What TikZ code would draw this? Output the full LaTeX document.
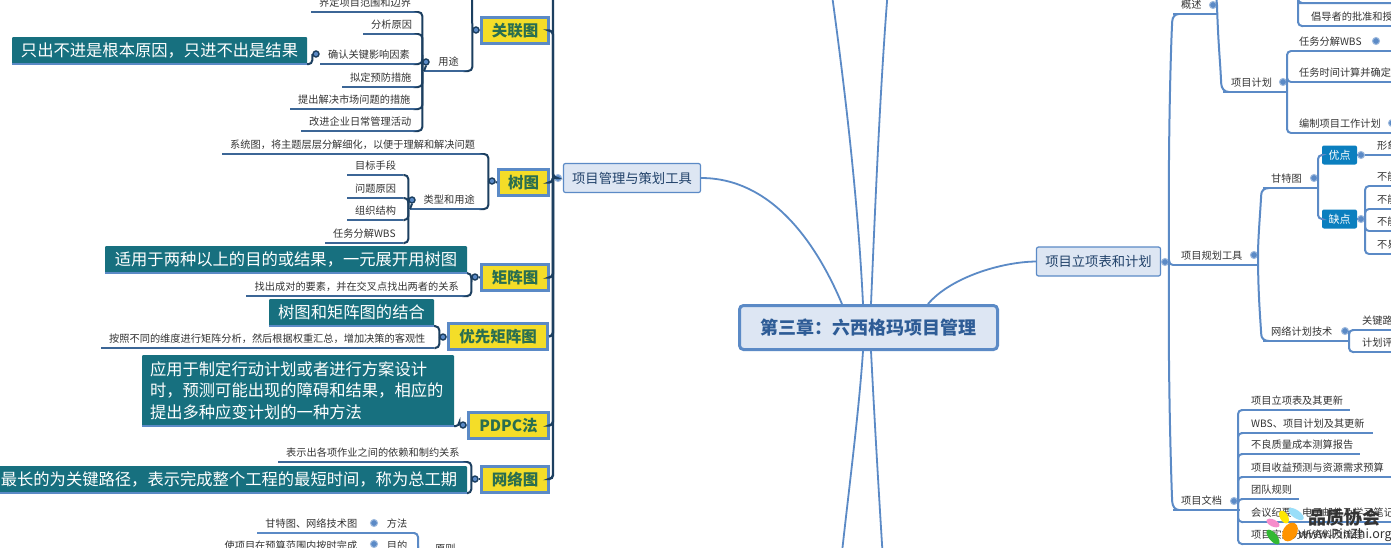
\documentclass[tikz,border=0pt]{standalone}
\usepackage{fontspec}
\setmainfont{Noto Sans CJK SC}
\usepackage{tikz}
\definecolor{navy}{HTML}{1C3F60}
\definecolor{dkline}{HTML}{3C6696}
\definecolor{ltline}{HTML}{5B8AC6}
\definecolor{paleblue}{HTML}{DDE6F3}
\definecolor{tealbg}{HTML}{17707F}
\definecolor{toolyel}{HTML}{F4DD28}
\definecolor{toolgrn}{HTML}{2A6E50}
\definecolor{titleblu}{HTML}{2E5C96}
\definecolor{stepblu}{HTML}{0B7FBF}
\definecolor{inktxt}{HTML}{333333}
\tikzset{
    leaf/.style={anchor=south west, inner xsep=8pt, inner ysep=0pt, minimum height=18pt,
        text height=8.5pt, text depth=1.5pt, text=inktxt, font=\fontsize{10.2}{12}\selectfont},
    lleaf/.style={leaf, align=right},
    rleaf/.style={leaf, align=left},
    uline/.style={dkline, line width=1.6pt},
    bline/.style={ltline, line width=2pt},
    brk/.style={navy, line width=2pt, rounded corners=4pt},
    blk/.style={ltline, line width=2pt, rounded corners=4pt},
    mlink/.style={ltline, line width=1.8pt},
    ldot/.style={circle, draw=navy, fill=ltline, line width=1.4pt, minimum size=6pt, inner sep=0pt},
    rdot/.style={circle, draw=ltline!60, fill=ltline, line width=1pt, minimum size=7pt, inner sep=0pt},
    toolbox/.style={draw=ltline, fill=toolyel, line width=3pt, text=toolgrn,
        font=\fontsize{15.5}{18}\selectfont\bfseries, inner sep=0pt},
    tealbox/.style={fill=tealbg, text=white, inner sep=0pt, rounded corners=1pt,
        font=\fontsize{16.3}{21.5}\selectfont},
    stepbox/.style={fill=stepblu, text=white, rounded corners=2pt, minimum width=35pt, minimum height=19pt,
        inner sep=0pt, font=\fontsize{11}{13}\selectfont},
    branch/.style={draw=ltline, fill=paleblue, line width=1.2pt, rounded corners=2pt, minimum width=137pt,
        minimum height=29pt, inner sep=0pt, text=titleblu!70!black, font=\fontsize{13.3}{16}\selectfont},
    rootbox/.style={draw=ltline, fill=paleblue, line width=3pt, rounded corners=4pt, minimum width=258pt,
        minimum height=44pt, inner sep=0pt, text=titleblu, font=\fontsize{18}{22}\selectfont\bfseries},
}
\begin{document}
\begin{tikzpicture}[x=1pt, y=-1pt]
    \useasboundingbox (0, 0) rectangle (1391, 547);
    \clip (0, 0) rectangle (1391, 547);
    \fill[white] (0, 0) rectangle (1391, 547);

    % centre and main branches
    \node[rootbox] (root) at (868.5, 327.5){第三章：六西格玛项目管理};
    \node[branch] (plan) at (632, 178){项目管理与策划工具};
    \node[branch, minimum width=124pt] (rmain) at (1098.5, 261.5){项目立项表和计划};
    \coordinate (tua) at (832, -5);
    \coordinate (tub) at (887.5, -5);
    \coordinate (dna) at (842, 552);
    \coordinate (dnb) at (882.5, 552);
    \draw[mlink] ([xshift=-26.5pt]root.north) .. controls (815, 240) and (770, 178) .. (plan.east);
    \draw[mlink] ([xshift=-5.5pt]root.north) .. controls (858, 200) and (845, 90) .. (tua);
    \draw[mlink] ([xshift=2.5pt]root.north) .. controls (875, 210) and (880, 90) .. (tub);
    \draw[mlink] ([xshift=-5.5pt]root.south) .. controls (859, 410) and (850, 480) .. (dna);
    \draw[mlink] ([xshift=2.5pt]root.south) .. controls (874, 410) and (878, 480) .. (dnb);
    \draw[mlink] ([xshift=59.5pt]root.north) .. controls (950, 278) and (1000, 262) .. (rmain.west);

    % tool boxes on the left
    \foreach \n/\cx/\cy/\w/\txt in {gl/515/30.5/67/关联图, sh/523.5/182.5/50/树图, jz/515/277.5/67/矩阵图,
        yx/498/336.5/99/优先矩阵图, pd/508.5/425.5/80/PDPC法, wl/515/479/67/网络图}
        \node[toolbox, minimum width=\w pt, minimum height=26pt] (\n) at (\cx, \cy){\txt};

    % notes
    \node[tealbox, minimum width=295pt, minimum height=27pt] (tc) at (159.5, 50.5){只出不进是根本原因，只进不出是结果};
    \node[tealbox, minimum width=362pt, minimum height=27pt] (tj) at (286, 259.5){适用于两种以上的目的或结果，一元展开用树图};
    \node[tealbox, minimum width=165pt, minimum height=27pt] (ts) at (351.5, 312.5){树图和矩阵图的结合};
    \node[tealbox, text width=296pt, inner xsep=8pt, minimum height=71pt, align=left] (ta) at (298, 390.5){应用于制定行动计划或者进行方案设计\\时，预测可能出现的障碍和结果，相应的\\提出多种应变计划的一种方法};
    \node[tealbox, minimum width=476pt, minimum height=27pt] (tw) at (229, 479.5){最长的为关键路径，表示完成整个工程的最短时间，称为总工期};
    \foreach \n in {tc, tw, tj, ts, ta}
        \draw[bline] (\n.south west) -- (\n.south east);

    % left labels
    \foreach \n/\xa/\xb/\y/\txt in {jd/311/418/12/界定项目范围和边界, fx/363/418/34/分析原因,
        qr/320/418/64/确认关键影响因素, nd/342/418/87/拟定预防措施,
        tjj/290/418/109/提出解决市场问题的措施, gj/301/418/131/改进企业日常管理活动,
        yt/424/468/71/用途, xt/222/484/154/{系统图，将主题层层分解细化，以便于理解和解决问题},
        lx/410/484/209/类型和用途, mb/347/403/175/目标手段, wy/347/403/198/问题原因,
        zz/347/403/220/组织结构, rw/325/403/243/任务分解WBS,
        zc/246/468/296/{找出成对的要素，并在交叉点找出两者的关系},
        an/101/434/348/{按照不同的维度进行矩阵分析，然后根据权重汇总，增加决策的客观性},
        bs/278/468/462/表示出各项作业之间的依赖和制约关系}{
        \pgfmathsetmacro\tw{\xb-\xa-16}
        \node[lleaf, text width=\tw pt] (\n) at (\xa, \y){\txt\hspace*{1.5pt}};
        \draw[uline] (\n.south west) -- (\n.south east);
    }

    % bottom left labels
    \foreach \n/\xa/\xb/\y/\txt in {gt/257/365/533/甘特图、网络技术图, ff/378/415/533/方法,
        sy/216/365/555/使项目在预算范围内按时完成, md/378/415/555/目的, yz/427/463/558/原则}{
        \pgfmathsetmacro\tw{\xb-\xa-16}
        \node[lleaf, text width=\tw pt] (\n) at (\xa, \y){\txt};
        \draw[bline] (\n.south west) -- (\n.south east);
    }

    % right labels
    \foreach \n/\xa/\xb/\y/\txt in {gs/1173/1217/14/概述, xm/1223/1287/92/项目计划,
        cd/1303/1410/26/倡导者的批准和授, fj/1291/1410/51/任务分解WBS,
        sj/1291/1410/82/任务时间计算并确定, bz/1291/1410/133/编制项目工作计划,
        gh/1173/1258/265/项目规划工具, gtt/1263/1318/188/甘特图, wj/1263/1350/341/网络计划技术,
        xx/1369/1410/155/形象, bna/1369/1410/186/不能, bnb/1369/1410/209/不能,
        bnc/1369/1410/231/不能, bny/1369/1410/254/不易,
        gjl/1354/1410/330/关键路, jh/1354/1410/352/计划评, wd/1173/1240/510/项目文档,
        dl/1243/1350/410/项目立项表及其更新, dm/1243/1373/433/WBS、项目计划及其更新,
        dn/1243/1360/454/不良质量成本测算报告, dp/1243/1410/477/项目收益预测与资源需求预算,
        dq/1243/1299/499/团队规则, dr/1243/1410/522/会议纪要、电子邮件及学习笔记,
        ds/1243/1410/544/项目实施分析资料及流程}{
        \pgfmathsetmacro\tw{\xb-\xa-16}
        \node[rleaf, text width=\tw pt] (\n) at (\xa, \y){\txt};
        \draw[bline] (\n.south west) -- (\n.south east);
    }
    \node[stepbox] (yd) at (1339.5, 155){优点};
    \node[stepbox] (qd) at (1339.5, 219){缺点};

    % left tree
    \coordinate (trk) at (553, 178);
    \coordinate (tpk) at (553, -5);
    \coordinate (tpa) at (472, -5);
    \foreach \n/\x/\y in {dgl/476/30, dsh/492/181, djz/475/277, dyx/443/337, dpd/463/425, dwl/475/479,
        dyt/426/62, dlx/412/200, dqr/316/54}
        \node[ldot] (\n) at (\x, \y){};
    \foreach \n/\x/\y in {dplan/558/178, dff/374/523, dmd/374/544, dgs/1213/5, dxm/1283/82, dfj/1376/41, dbz/1392/123,
        dgh/1254/255, dgtt/1314/178, dyd/1361/155, dqd/1361/219, dwj/1345/331, dwd/1234/501, drm/1165/262}
        \node[rdot] (\n) at (\x, \y){};
    \draw[brk, line width=2.4pt] (dplan.west) -- (trk) -- (tpk);
    \foreach \n in {gl, sh, jz, yx, pd, wl}
        \draw[brk, line width=2.4pt] (trk) |- (\n.east);
    \foreach \a/\b in {dgl/gl, dsh/sh, djz/jz, dyx/yx, dpd/pd, dwl/wl}
        \draw[brk] (\a) -- (\b.west);
    \draw[brk] (dgl.west) -- (tpa);
    \draw[brk] (dgl.west) |- (yt.south east);
    \draw[brk] (dyt.south) -- (yt.south west);
    \foreach \n in {jd, fx, qr, nd, tjj, gj}
        \draw[brk] (dyt.west) |- (\n.south east);
    \draw[brk] (dqr.west) |- (tc.south east);
    \foreach \n in {xt, lx}
        \draw[brk] (dsh.west) |- (\n.south east);
    \draw[brk] (dlx.south) -- (lx.south west);
    \foreach \n in {mb, wy, zz, rw}
        \draw[brk] (dlx.west) |- (\n.south east);
    \foreach \n in {tj, zc}
        \draw[brk] (djz.west) |- (\n.south east);
    \foreach \n in {ts, an}
        \draw[brk] (dyx.west) |- (\n.south east);
    \draw[brk] (dpd.west) |- (ta.south east);
    \foreach \n in {bs, tw}
        \draw[brk] (dwl.west) |- (\n.south east);

    % bottom left tree
    \coordinate (yzc) at (418, 552);
    \draw[blk] (ff.south west) -- (gt.south east);
    \draw[blk] (ff.south east) -| (yzc);
    \draw[blk] (md.south east) -| (yzc);

    % right tree
    \coordinate (tpb) at (1216, -5);
    \coordinate (czt) at (1298, -5);
    \coordinate (cza) at (1303, 3);
    \coordinate (czb) at (1410, 3);
    \draw[blk] (drm) -- (rmain.east);
    \draw[blk] (drm.east) .. controls (1168, 150) and (1170.5, 60) .. (1172, 25) .. controls (1172.5, 17) and (1175, 14) .. ([xshift=6pt]gs.south west);
    \draw[blk] (drm.east) |- (gh.south west);
    \draw[blk] (drm.east) .. controls (1168, 350) and (1170, 440) .. (1172, 498) .. controls (1172.5, 506) and (1175, 510) .. ([xshift=6pt]wd.south west);
    \draw[blk] (dgs.east) -- (tpb);
    \draw[blk] (dgs.east) .. controls (1218, 40) and (1220, 60) .. (1221, 80) .. controls (1221.5, 88) and (1224, 92) .. ([xshift=6pt]xm.south west);
    \draw[blk] (czt) |- (cza) -- (czb);
    \draw[blk] (czt) |- (cd.south west);
    \foreach \n in {fj, sj, bz}
        \draw[blk] (dxm.east) |- (\n.south west);
    \draw[blk] (dgh.east) .. controls (1258, 240) and (1260, 215) .. (1261, 198) .. controls (1261.5, 191) and (1264, 188) .. ([xshift=6pt]gtt.south west);
    \draw[blk] (dgh.east) .. controls (1258, 290) and (1260, 315) .. (1261, 331) .. controls (1261.5, 338) and (1264, 341) .. ([xshift=6pt]wj.south west);
    \draw[blk] (dgtt.east) |- (yd.west);
    \draw[blk] (dgtt.east) |- (qd.west);
    \draw[blk] (dyd) -- (yd.east);
    \draw[blk] (dqd) -- (qd.east);
    \draw[blk] (dyd.east) -- (xx.south west);
    \foreach \n in {bna, bnb, bnc, bny}
        \draw[blk] (dqd.east) |- (\n.south west);
    \foreach \n in {gjl, jh}
        \draw[blk] (dwj.east) |- (\n.south west);
    \foreach \n in {dl, dm, dn, dp, dq, dr, ds}
        \draw[blk] (dwd.east) |- (\n.south west);

    % site mark
    \fill[orange!85!yellow, rotate around={60:(1290, 532)}] (1290, 532) ellipse (10 and 7);
    \fill[yellow!90!orange, rotate around={-60:(1284, 517)}] (1284, 517) ellipse (7 and 4);
    \fill[cyan!40, rotate around={-35:(1296, 514)}] (1296, 514) ellipse (9 and 4);
    \fill[magenta!45, rotate around={-25:(1273, 523)}] (1273, 523) ellipse (7 and 3.5);
    \fill[green!65!black!80, rotate around={-50:(1273, 537)}] (1273, 537) ellipse (9 and 4);
    \node[font=\fontsize{18}{20}\selectfont\bfseries, text=black!80, inner sep=0pt] (wma) at (1344, 518){品质协会};
    \node[font=\fontsize{12.5}{14}\selectfont, text=black!80, inner sep=0pt] (wmb) at (1345, 535){www.PinZhi.org};
\end{tikzpicture}
\end{document}
